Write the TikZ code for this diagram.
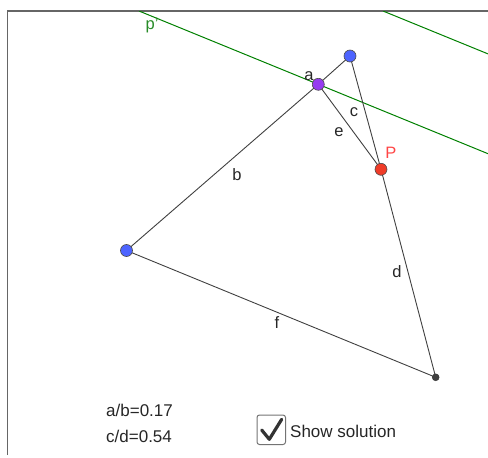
\documentclass[tikz,border=0pt]{standalone}
\usepackage{fontspec}
\setmainfont{Liberation Sans}
\begin{document}
\begin{tikzpicture}[x=1pt,y=-1pt,
  seg/.style={draw=black!75, line width=0.9pt},
  parline/.style={draw=green!50!black, line width=1pt},
  frameline/.style={draw=black!60, line width=1.3pt},
  bluept/.style={circle, inner sep=0pt, minimum size=12pt, fill={rgb,255:red,77;green,100;blue,255}, draw=black!70, line width=0.6pt},
  purplept/.style={circle, inner sep=0pt, minimum size=12pt, fill={rgb,255:red,150;green,60;blue,240}, draw=black!70, line width=0.6pt},
  redpt/.style={circle, inner sep=0pt, minimum size=12pt, fill={rgb,255:red,240;green,60;blue,40}, draw=black!70, line width=0.6pt},
  darkpt/.style={circle, inner sep=0pt, minimum size=7pt, fill=black!75, draw=black!80},
  lbl/.style={font=\fontsize{16.5}{19}\selectfont, text=black!85, inner sep=0pt},
  txt/.style={font=\fontsize{17}{20}\selectfont, text=black!85, inner sep=0pt, anchor=west}]
\useasboundingbox (0,0) rectangle (488,458);
% frame
\draw[frameline] (7.5,455) -- (7.5,11) -- (488,11);
% green parallel lines (clipped)
\begin{scope}
  \clip (7.5,11) rectangle (488,458);
  \coordinate (g1a) at (139,11);
  \coordinate (g1b) at (488,153.7);
  \coordinate (g2a) at (383,11);
  \coordinate (g2b) at (488,53.9);
  \draw[parline] (g1a) -- (g1b);
  \draw[parline] (g2a) -- (g2b);
\end{scope}
% points
\coordinate (A) at (126.5,250.5);
\coordinate (B) at (350,56);
\coordinate (C) at (435.7,377.3);
\coordinate (M) at (318.3,84.3);
\coordinate (Pp) at (381,169.3);
% segments
\draw[seg] (A) -- (M);
\draw[seg] (M) -- (B);
\draw[seg] (B) -- (Pp);
\draw[seg] (Pp) -- (C);
\draw[seg] (M) -- (Pp);
\draw[seg] (A) -- (C);
% point markers
\node[bluept] (nA) at (A) {};
\node[bluept] (nB) at (B) {};
\node[darkpt] (nC) at (C) {};
\node[purplept] (nM) at (M) {};
\node[redpt] (nP) at (Pp) {};
% labels
\node[lbl, text={rgb,255:red,40;green,140;blue,40}] (lp) at (152,26) {p'};
\node[lbl] (la) at (309,76) {a};
\node[lbl] (lb) at (237,175) {b};
\node[lbl] (lc) at (354,112) {c};
\node[lbl] (le) at (339,132) {e};
\node[lbl, text={rgb,255:red,255;green,70;blue,70}] (lP) at (391,153) {P};
\node[lbl] (ld) at (397,272) {d};
\node[lbl] (lf) at (277,323) {f};
% texts
\node[txt] (t1) at (106,410) {a/b=0.17};
\node[txt] (t2) at (106,436) {c/d=0.54};
% checkbox
\draw[draw=black!55, line width=1pt, rounded corners=2.5pt] (257,415) rectangle (285.5,444.5);
\coordinate (k1) at (261.7,430);
\coordinate (k2) at (269.3,439.3);
\coordinate (k3) at (281.7,419.3);
\draw[draw=black!80, line width=3.2pt, line cap=round, line join=round] (k1) -- (k2) -- (k3);
\node[txt] (t3) at (290,431) {Show solution};
\end{tikzpicture}
\end{document}
